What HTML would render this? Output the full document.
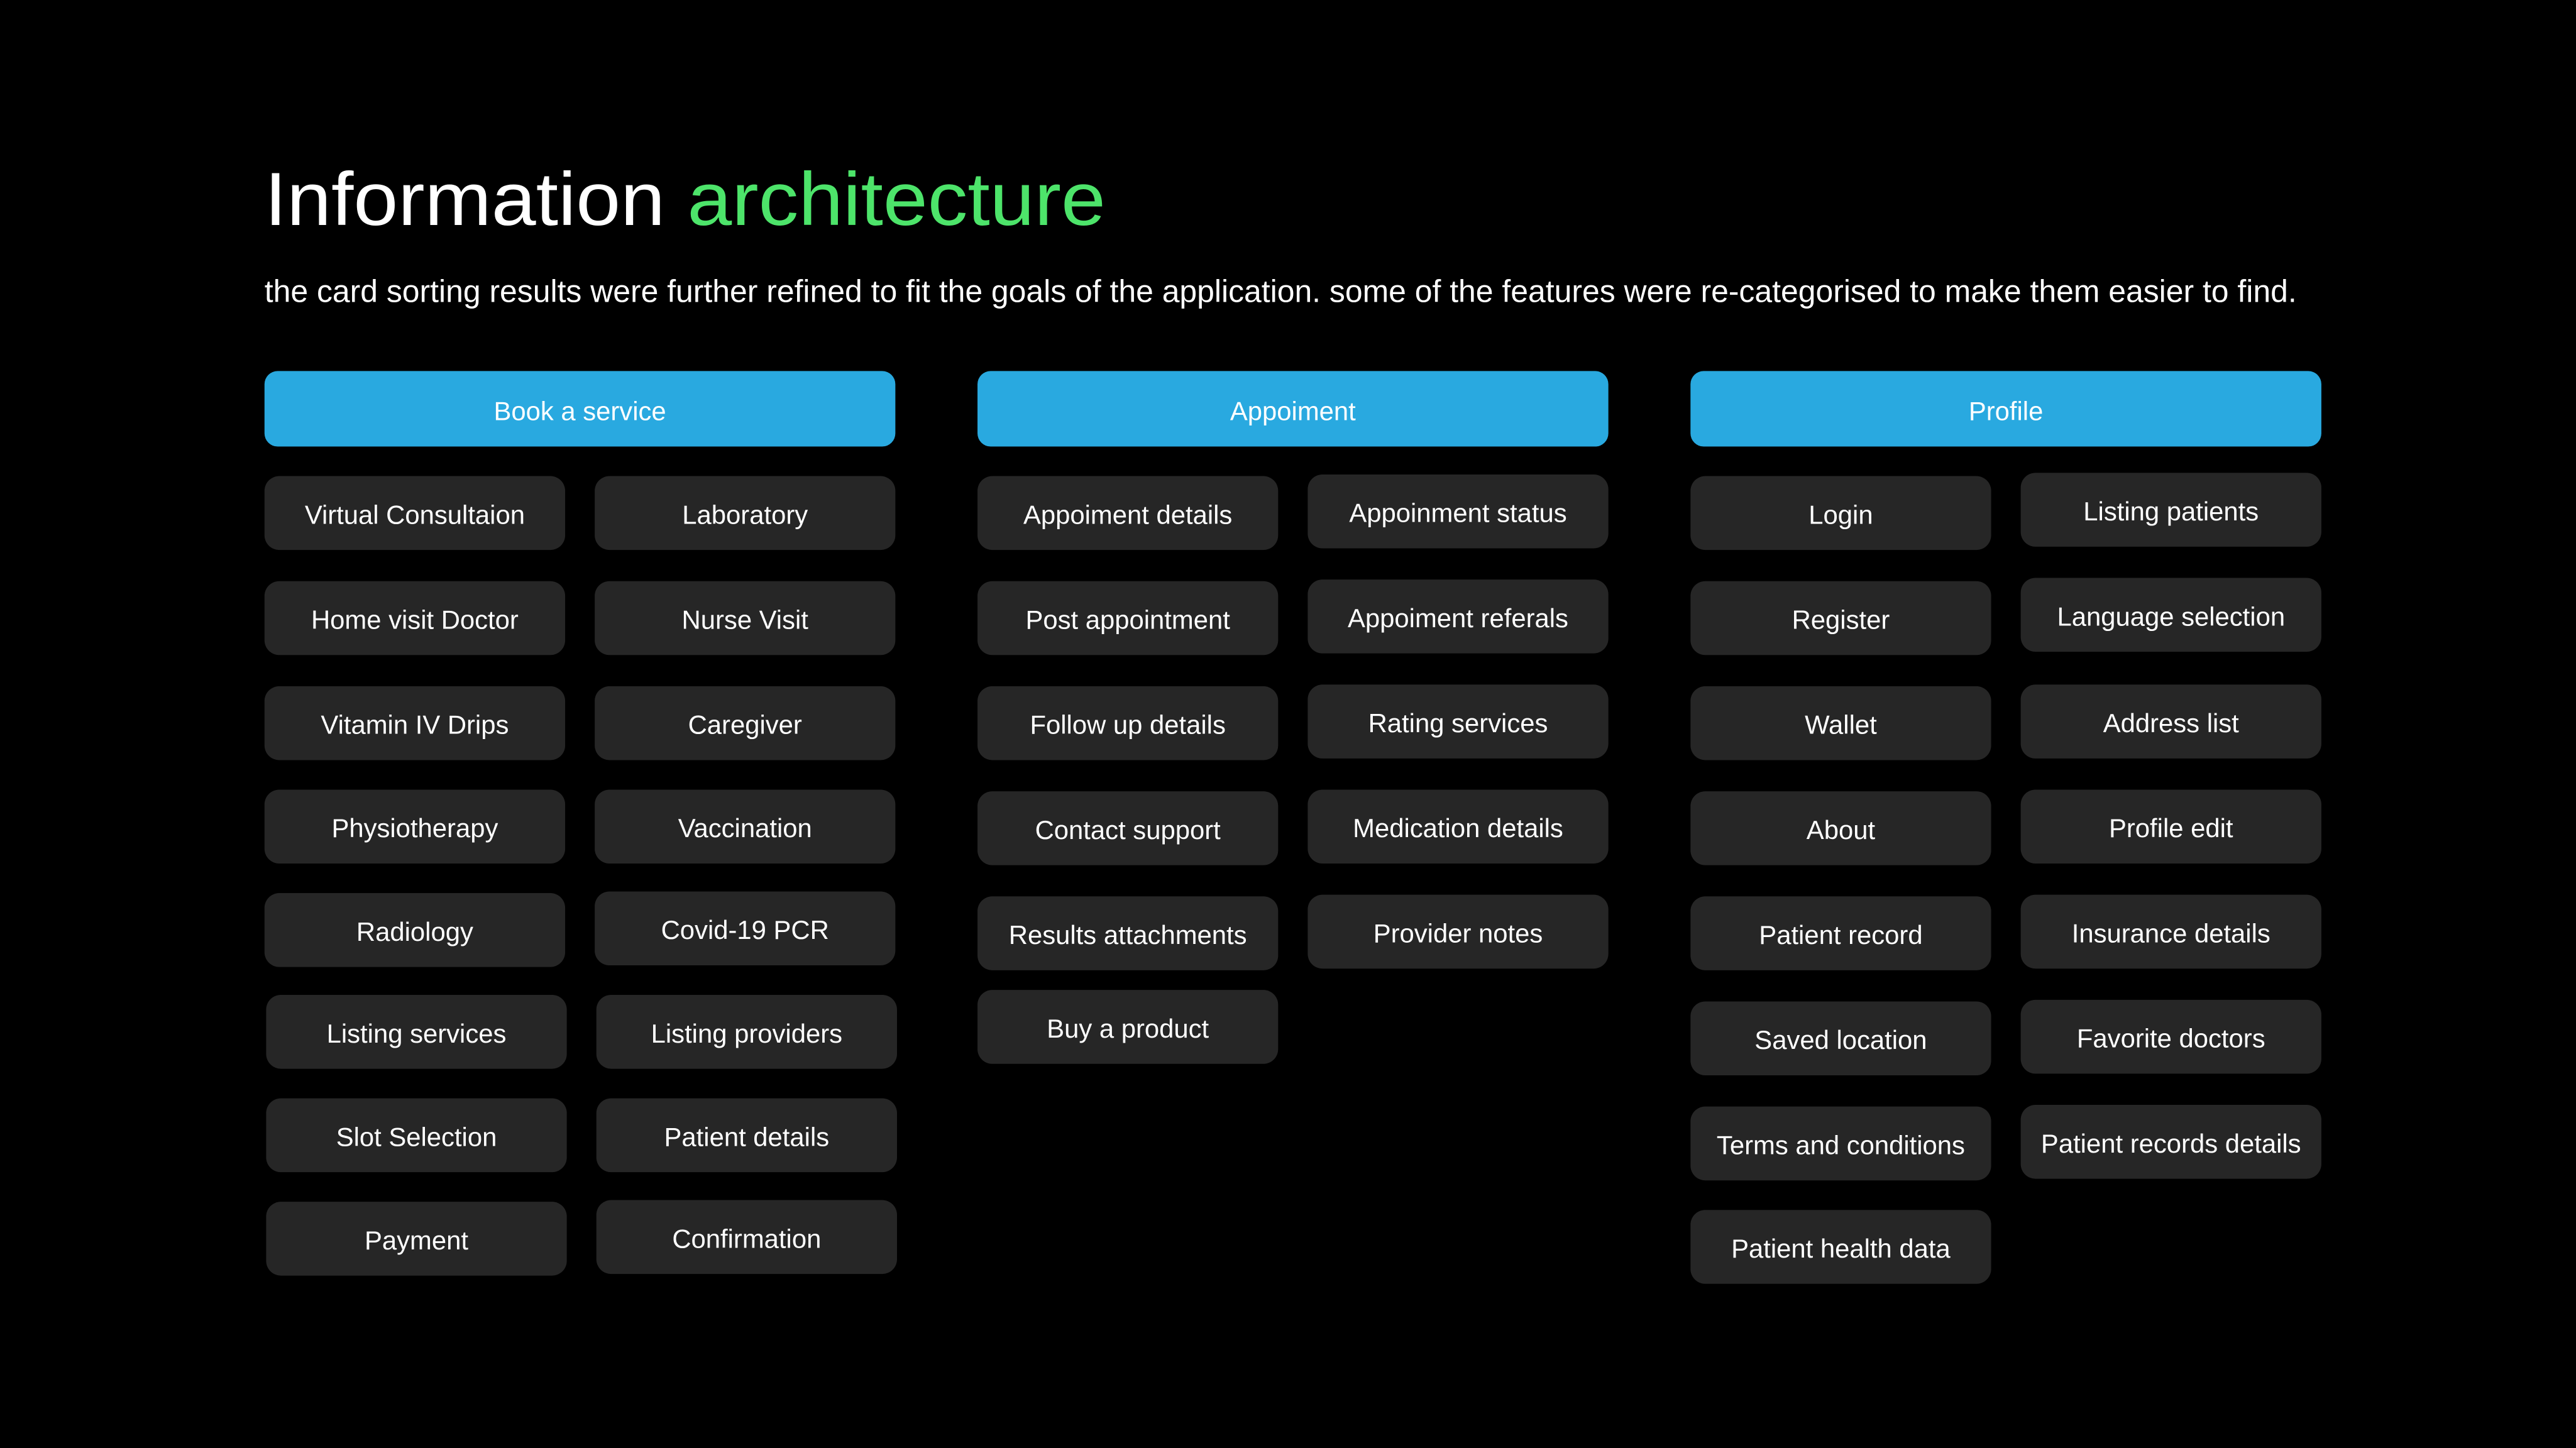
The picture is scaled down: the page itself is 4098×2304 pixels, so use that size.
<!DOCTYPE html>
<html><head><meta charset="utf-8"><style>
html,body{margin:0;padding:0;background:#000;}
svg{display:block;}
text{font-family:"Liberation Sans",sans-serif;fill:#fff;}
.c{fill:#262626;}
.h{fill:#29a9e0;}
.t{font-size:16px;text-anchor:middle;}
</style></head><body>
<svg width="4098" height="2304" viewBox="0 0 1568 882" preserveAspectRatio="none" xmlns="http://www.w3.org/2000/svg">
<rect width="1568" height="882" fill="#000"/>
<text x="161" y="137" font-size="46" textLength="512" lengthAdjust="spacingAndGlyphs">Information <tspan fill="#4de46a" style="fill:#4de46a">architecture</tspan></text>
<text x="161" y="184" font-size="19" textLength="1237" lengthAdjust="spacingAndGlyphs">the card sorting results were further refined to fit the goals of the application. some of the features were re-categorised to make them easier to find.</text>

<rect class="h" x="161" y="226" width="384" height="46" rx="8"/><text class="t" x="353" y="256">Book a service</text>
<rect class="h" x="595" y="226" width="384" height="46" rx="8"/><text class="t" x="787" y="256">Appoiment</text>
<rect class="h" x="1029" y="226" width="384" height="46" rx="8"/><text class="t" x="1221" y="256">Profile</text>

<!-- col1 left -->
<rect class="c" x="161" y="290" width="183" height="45" rx="9"/><text class="t" x="252.5" y="319">Virtual Consultaion</text>
<rect class="c" x="161" y="354" width="183" height="45" rx="9"/><text class="t" x="252.5" y="383">Home visit Doctor</text>
<rect class="c" x="161" y="418" width="183" height="45" rx="9"/><text class="t" x="252.5" y="447">Vitamin IV Drips</text>
<rect class="c" x="161" y="481" width="183" height="45" rx="9"/><text class="t" x="252.5" y="510">Physiotherapy</text>
<rect class="c" x="161" y="544" width="183" height="45" rx="9"/><text class="t" x="252.5" y="573">Radiology</text>
<rect class="c" x="162" y="606" width="183" height="45" rx="9"/><text class="t" x="253.5" y="635">Listing services</text>
<rect class="c" x="162" y="669" width="183" height="45" rx="9"/><text class="t" x="253.5" y="698">Slot Selection</text>
<rect class="c" x="162" y="732" width="183" height="45" rx="9"/><text class="t" x="253.5" y="761">Payment</text>
<!-- col1 right -->
<rect class="c" x="362" y="290" width="183" height="45" rx="9"/><text class="t" x="453.5" y="319">Laboratory</text>
<rect class="c" x="362" y="354" width="183" height="45" rx="9"/><text class="t" x="453.5" y="383">Nurse Visit</text>
<rect class="c" x="362" y="418" width="183" height="45" rx="9"/><text class="t" x="453.5" y="447">Caregiver</text>
<rect class="c" x="362" y="481" width="183" height="45" rx="9"/><text class="t" x="453.5" y="510">Vaccination</text>
<rect class="c" x="362" y="543" width="183" height="45" rx="9"/><text class="t" x="453.5" y="572">Covid-19 PCR</text>
<rect class="c" x="363" y="606" width="183" height="45" rx="9"/><text class="t" x="454.5" y="635">Listing providers</text>
<rect class="c" x="363" y="669" width="183" height="45" rx="9"/><text class="t" x="454.5" y="698">Patient details</text>
<rect class="c" x="363" y="731" width="183" height="45" rx="9"/><text class="t" x="454.5" y="760">Confirmation</text>

<!-- col2 left -->
<rect class="c" x="595" y="290" width="183" height="45" rx="9"/><text class="t" x="686.5" y="319">Appoiment details</text>
<rect class="c" x="595" y="354" width="183" height="45" rx="9"/><text class="t" x="686.5" y="383">Post appointment</text>
<rect class="c" x="595" y="418" width="183" height="45" rx="9"/><text class="t" x="686.5" y="447">Follow up details</text>
<rect class="c" x="595" y="482" width="183" height="45" rx="9"/><text class="t" x="686.5" y="511">Contact support</text>
<rect class="c" x="595" y="546" width="183" height="45" rx="9"/><text class="t" x="686.5" y="575">Results attachments</text>
<rect class="c" x="595" y="603" width="183" height="45" rx="9"/><text class="t" x="686.5" y="632">Buy a product</text>
<!-- col2 right -->
<rect class="c" x="796" y="289" width="183" height="45" rx="9"/><text class="t" x="887.5" y="318">Appoinment status</text>
<rect class="c" x="796" y="353" width="183" height="45" rx="9"/><text class="t" x="887.5" y="382">Appoiment referals</text>
<rect class="c" x="796" y="417" width="183" height="45" rx="9"/><text class="t" x="887.5" y="446">Rating services</text>
<rect class="c" x="796" y="481" width="183" height="45" rx="9"/><text class="t" x="887.5" y="510">Medication details</text>
<rect class="c" x="796" y="545" width="183" height="45" rx="9"/><text class="t" x="887.5" y="574">Provider notes</text>

<!-- col3 left -->
<rect class="c" x="1029" y="290" width="183" height="45" rx="9"/><text class="t" x="1120.5" y="319">Login</text>
<rect class="c" x="1029" y="354" width="183" height="45" rx="9"/><text class="t" x="1120.5" y="383">Register</text>
<rect class="c" x="1029" y="418" width="183" height="45" rx="9"/><text class="t" x="1120.5" y="447">Wallet</text>
<rect class="c" x="1029" y="482" width="183" height="45" rx="9"/><text class="t" x="1120.5" y="511">About</text>
<rect class="c" x="1029" y="546" width="183" height="45" rx="9"/><text class="t" x="1120.5" y="575">Patient record</text>
<rect class="c" x="1029" y="610" width="183" height="45" rx="9"/><text class="t" x="1120.5" y="639">Saved location</text>
<rect class="c" x="1029" y="674" width="183" height="45" rx="9"/><text class="t" x="1120.5" y="703">Terms and conditions</text>
<rect class="c" x="1029" y="737" width="183" height="45" rx="9"/><text class="t" x="1120.5" y="766">Patient health data</text>
<!-- col3 right -->
<rect class="c" x="1230" y="288" width="183" height="45" rx="9"/><text class="t" x="1321.5" y="317">Listing patients</text>
<rect class="c" x="1230" y="352" width="183" height="45" rx="9"/><text class="t" x="1321.5" y="381">Language selection</text>
<rect class="c" x="1230" y="417" width="183" height="45" rx="9"/><text class="t" x="1321.5" y="446">Address list</text>
<rect class="c" x="1230" y="481" width="183" height="45" rx="9"/><text class="t" x="1321.5" y="510">Profile edit</text>
<rect class="c" x="1230" y="545" width="183" height="45" rx="9"/><text class="t" x="1321.5" y="574">Insurance details</text>
<rect class="c" x="1230" y="609" width="183" height="45" rx="9"/><text class="t" x="1321.5" y="638">Favorite doctors</text>
<rect class="c" x="1230" y="673" width="183" height="45" rx="9"/><text class="t" x="1321.5" y="702">Patient records details</text>
</svg>
</body></html>
